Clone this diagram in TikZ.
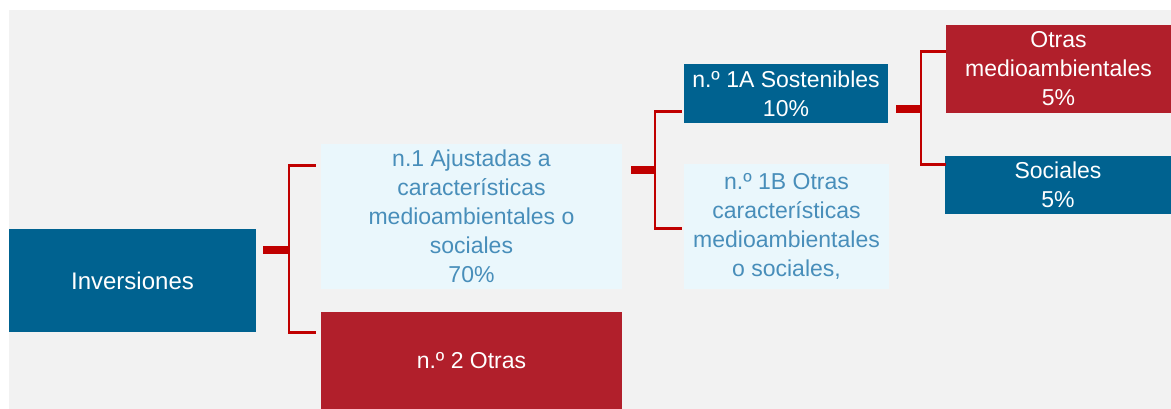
\documentclass[tikz,border=0pt]{standalone}
\usepackage{fontspec}
\setmainfont{Liberation Sans}
\usetikzlibrary{calc}
\definecolor{bg}{RGB}{242,242,242}
\definecolor{dblue}{RGB}{0,98,144}
\definecolor{dred}{RGB}{177,31,43}
\definecolor{lblue}{RGB}{234,247,252}
\definecolor{tblue}{RGB}{72,142,186}
\definecolor{bred}{RGB}{192,0,0}
\begin{document}
\begin{tikzpicture}[x=1pt,y=-1pt,
  box/.style={rectangle, inner sep=0pt, align=center, font=\fontsize{23}{29}\selectfont},
  bluebox/.style={box, fill=dblue, text=white},
  redbox/.style={box, fill=dred, text=white},
  lightbox/.style={box, fill=lblue, text=tblue},
  arm/.style={draw=bred, line width=2.8pt, line join=miter},
  stub/.style={draw=bred, line width=8pt}]
\useasboundingbox (0,0) rectangle (1171,409);
\fill[bg] (9,10) rectangle (1171,409);

\node[bluebox, minimum width=247pt, minimum height=103pt, font=\fontsize{24}{29}\selectfont] (inv) at (132.5,280.5) {Inversiones};
\node[lightbox, minimum width=301pt, minimum height=145pt] (n1) at (471.5,216.5) {n.1 Ajustadas a\\características\\medioambientales o\\sociales\\70\%};
\node[redbox, minimum width=301pt, minimum height=97pt] (n2) at (471.5,360.5) {n.º 2 Otras};
\node[bluebox, minimum width=204pt, minimum height=59pt] (n1a) at (786,93.5) {n.º 1A Sostenibles\\10\%};
\node[lightbox, minimum width=205pt, minimum height=125pt] (n1b) at (786.5,226.5) {n.º 1B Otras\\características\\medioambientales\\o sociales,};
\node[redbox, minimum width=225pt, minimum height=88pt] (om) at (1058.5,69) {Otras\\medioambientales\\5\%};
\node[bluebox, minimum width=226pt, minimum height=58pt] (soc) at (1058,185) {Sociales\\5\%};

% bracket 1
\coordinate (b1) at (289,250);
\draw[stub] ($(inv.east |- b1)+(7,0)$) -- (b1);
\draw[arm] ($(n1.north west)+(-5,22)$) -| (b1) |- ($(n2.north west)+(-5,21)$);
% bracket 2
\coordinate (b2) at (655,170);
\draw[stub] ($(n1.east |- b2)+(9,0)$) -- (b2);
\draw[arm] ($(n1a.north west)+(-2,48)$) -| (b2) |- ($(n1b.north west)+(-2,65)$);
% bracket 3
\coordinate (b3) at (921,109);
\draw[stub] ($(n1a.east |- b3)+(8,0)$) -- (b3);
\draw[arm] ($(om.north west)+(0,27)$) -| (b3) |- ($(soc.north west)+(1,9)$);
\end{tikzpicture}
\end{document}
